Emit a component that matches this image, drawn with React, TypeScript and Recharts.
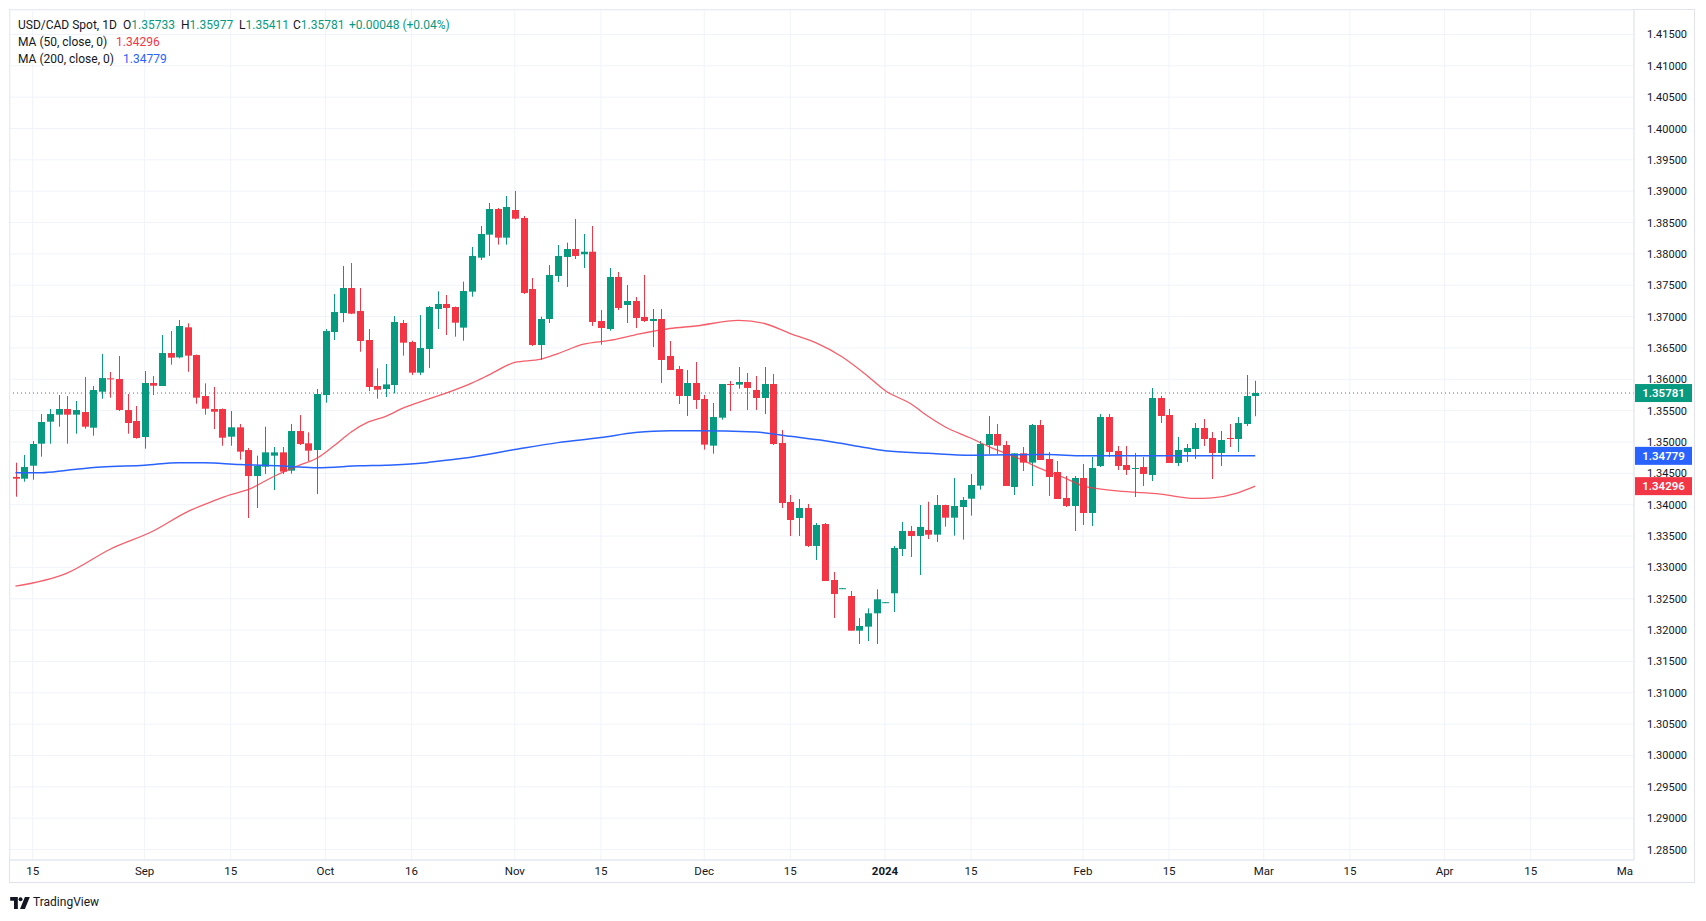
import React from 'react';
import { ComposedChart, Bar, Line, XAxis, YAxis, CartesianGrid, ReferenceLine } from 'recharts';

// Daily candles, Aug 11 2023 .. Feb 29 2024 (index 0 = Aug 11)
const openPrices = [
  1.34442,1.34415,1.34622,1.34973,1.35324,1.35436,1.35526,1.35436,1.35478,1.35228,
  1.35802,1.36015,1.36005,1.3551,1.35335,1.35079,1.35941,1.35893,1.36419,1.3635,
  1.36829,1.36387,1.35733,1.35526,1.35526,1.35085,1.35234,1.34872,1.34457,1.34606,
  1.34782,1.34835,1.34543,1.35175,1.34979,1.34872,1.35749,1.36754,1.37057,1.37456,
  1.37089,1.36627,1.35893,1.35845,1.35909,1.36898,1.36595,1.36106,1.36483,1.37121,
  1.37201,1.37153,1.36824,1.37398,1.3794,1.38307,1.38716,1.38259,1.387,1.38573,
  1.3744,1.36547,1.36962,1.37648,1.37951,1.38078,1.37994,1.38035,1.3693,1.36802,
  1.37632,1.37185,1.37249,1.36994,1.3693,1.36962,1.36372,1.36164,1.35734,1.35941,
  1.35686,1.34942,1.35388,1.35925,1.35915,1.35957,1.3583,1.35702,1.35925,1.34984,
  1.34043,1.33788,1.33948,1.33342,1.33692,1.32799,1.32662,1.32544,1.31991,1.32055,
  1.32268,1.3244,1.32587,1.33294,1.33581,1.33501,1.33597,1.33522,1.33995,1.33793,
  1.33963,1.34096,1.34304,1.34952,1.35128,1.34952,1.34282,1.34819,1.34671,1.35271,
  1.34729,1.34522,1.34107,1.33979,1.34426,1.33868,1.34617,1.35399,1.34857,1.34633,
  1.3458,1.34601,1.34474,1.35702,1.35431,1.34665,1.34841,1.34888,1.35223,1.35064,
  1.34825,1.35064,1.35048,1.35287,1.35733,
];
const highPrices = [
  1.3467,1.34792,1.35016,1.35446,1.35526,1.35749,1.35733,1.35654,1.36036,1.35893,
  1.36403,1.36116,1.36371,1.35765,1.35574,1.36132,1.36052,1.36706,1.3677,1.36946,
  1.36893,1.36395,1.35935,1.35877,1.35535,1.35494,1.35287,1.34904,1.34782,1.35244,
  1.3492,1.3492,1.35287,1.3543,1.35154,1.35845,1.36802,1.3736,1.37807,1.37855,
  1.37456,1.36802,1.36175,1.36244,1.37009,1.36946,1.36616,1.37025,1.3717,1.37403,
  1.37344,1.3716,1.37557,1.3811,1.38445,1.38812,1.38732,1.38924,1.39004,1.38605,
  1.37616,1.36999,1.37823,1.38142,1.38179,1.38557,1.38318,1.38445,1.37105,1.37775,
  1.37711,1.37504,1.37313,1.37664,1.37121,1.37121,1.36611,1.36212,1.36148,1.36276,
  1.3575,1.35622,1.35925,1.35973,1.36196,1.36101,1.36053,1.36196,1.36085,1.35192,
  1.34155,1.34091,1.34012,1.33708,1.33708,1.32927,1.32672,1.32624,1.32193,1.32347,
  1.32651,1.32448,1.33342,1.33724,1.33661,1.33995,1.34048,1.34155,1.34,1.34426,
  1.34123,1.3449,1.35016,1.35415,1.35287,1.35016,1.34819,1.3492,1.35287,1.35351,
  1.34841,1.34697,1.34458,1.34458,1.34649,1.34761,1.35447,1.35447,1.34936,1.34936,
  1.34825,1.34761,1.35861,1.35734,1.35527,1.3508,1.34968,1.35303,1.35367,1.3516,
  1.35176,1.35287,1.35399,1.36069,1.35977,
];
const lowPrices = [
  1.34128,1.34367,1.34399,1.34766,1.34973,1.35244,1.34973,1.35133,1.35212,1.35101,
  1.35691,1.35707,1.35494,1.35133,1.35053,1.34893,1.35749,1.35893,1.36233,1.36335,
  1.3612,1.35611,1.35436,1.35207,1.34941,1.34941,1.34718,1.33788,1.33947,1.34489,
  1.34234,1.34489,1.34495,1.34952,1.34697,1.3417,1.35627,1.36627,1.36911,1.3704,
  1.3644,1.35813,1.35691,1.35717,1.35776,1.36377,1.36068,1.36068,1.3618,1.36802,
  1.36706,1.3668,1.36616,1.37318,1.37903,1.37967,1.38148,1.38148,1.3855,1.37361,
  1.36531,1.36308,1.36898,1.37552,1.37472,1.37919,1.37775,1.3685,1.36552,1.36776,
  1.37105,1.36898,1.36818,1.36914,1.36515,1.35941,1.36148,1.35606,1.35415,1.35527,
  1.34878,1.34814,1.35356,1.35495,1.35851,1.35511,1.35511,1.35447,1.34952,1.33948,
  1.33501,1.33501,1.33326,1.33118,1.32783,1.32193,1.32658,1.31991,1.31779,1.31826,
  1.31779,1.32437,1.32289,1.33182,1.33166,1.32879,1.33453,1.33405,1.3365,1.33506,
  1.33443,1.33825,1.3424,1.34809,1.34809,1.34298,1.34155,1.34538,1.34298,1.34713,
  1.34139,1.34091,1.33963,1.33581,1.33676,1.3366,1.34601,1.34761,1.34554,1.34474,
  1.34123,1.34298,1.34378,1.35303,1.34665,1.34617,1.34681,1.34729,1.34936,1.3441,
  1.34617,1.3492,1.34841,1.35255,1.35411,
];
const closePrices = [
  1.34415,1.34601,1.34968,1.35319,1.35446,1.35526,1.35436,1.3551,1.35244,1.35829,
  1.3602,1.36005,1.3551,1.35303,1.35064,1.35941,1.35898,1.36419,1.36345,1.3685,
  1.36377,1.35707,1.35531,1.35483,1.35069,1.35234,1.34846,1.34457,1.34617,1.34835,
  1.34835,1.34527,1.35175,1.34968,1.34862,1.35765,1.3677,1.37073,1.37456,1.37047,
  1.36611,1.35877,1.35834,1.35919,1.36914,1.36584,1.36106,1.36499,1.37153,1.37201,
  1.37137,1.36903,1.37408,1.37967,1.38318,1.38716,1.38259,1.38748,1.38562,1.37377,
  1.36547,1.36962,1.37664,1.37967,1.38078,1.37967,1.38035,1.36914,1.36818,1.37632,
  1.37137,1.37249,1.36978,1.3693,1.36962,1.36308,1.36148,1.35734,1.35941,1.3567,
  1.34958,1.35399,1.35925,1.35915,1.35957,1.35862,1.35702,1.35925,1.34968,1.34027,
  1.33756,1.33948,1.33342,1.33677,1.32783,1.32576,1.32668,1.31991,1.32066,1.32268,
  1.32491,1.32445,1.3331,1.33581,1.33501,1.33645,1.33522,1.33995,1.33793,1.33979,
  1.34075,1.34314,1.34968,1.35128,1.34942,1.34298,1.34819,1.34671,1.35271,1.34713,
  1.34442,1.34091,1.33979,1.34426,1.33868,1.34586,1.35399,1.34841,1.34617,1.34554,
  1.34585,1.3449,1.35702,1.35415,1.34665,1.34873,1.34904,1.35223,1.35048,1.34825,
  1.35032,1.35053,1.35303,1.35734,1.35781,
];

// Moving averages read at selected bar indices
const ma50Index = [0,6,11,16,20,23,25,27,30,33,35,37,39,41,43,45,47,50,53,55,58,61,63,66,69,72,76,79,84,87,90,93,96,99,101,104,106,108,111,113,117,119,122,124,128,133,137,139,142,144];
const ma50Values = [1.3270,1.3291,1.3329,1.3358,1.3389,1.3406,1.3416,1.3424,1.3445,1.3463,1.3474,1.3494,1.3516,1.3532,1.3541,1.3554,1.3564,1.3578,1.3594,1.3607,1.3627,1.3632,1.3641,1.3656,1.3662,1.3671,1.3681,1.3685,1.3694,1.3689,1.3673,1.3658,1.3636,1.3605,1.3582,1.3561,1.3541,1.3524,1.3506,1.3493,1.3471,1.3458,1.3442,1.3430,1.3422,1.3417,1.3410,1.3411,1.3419,1.34296];
const ma200Index = [0,3,6,10,15,19,22,26,29,32,35,40,43,47,50,52,58,63,68,72,76,79,86,90,94,98,101,106,111,120,124,133,144];
const ma200Values = [1.3451,1.3451,1.3455,1.3460,1.3463,1.3467,1.3467,1.3464,1.3463,1.3461,1.3459,1.3462,1.3463,1.3466,1.3471,1.3474,1.3488,1.3499,1.3507,1.3515,1.3518,1.3518,1.3516,1.3509,1.3502,1.3493,1.3486,1.3482,1.3479,1.3480,1.3478,1.3478,1.34779];

const xTickIndex = [2,15,25,36,46,58,68,80,90,101,111,124,134,145,155,166,176,188];
const xTickLabels = ['15','Sep','15','Oct','16','Nov','15','Dec','15','2024','15','Feb','15','Mar','15','Apr','15','Ma'];
const yTicks = [1.285,1.29,1.295,1.3,1.305,1.31,1.315,1.32,1.325,1.33,1.335,1.34,1.345,1.35,1.355,1.36,1.365,1.37,1.375,1.38,1.385,1.39,1.395,1.4,1.405,1.41,1.415];

const lastClose = 1.35781;
const ma50Last = 1.34296;
const ma200Last = 1.34779;

const UP = '#089981';
const DOWN = '#F23645';
const BLUE = '#2962FF';
const TEXT = '#131722';
const FONT = 'Roboto, "Noto Sans", sans-serif';

type Row = { k: number; o: number; h: number; l: number; c: number; range: number[]; ma50?: number; ma200?: number };
const data: Row[] = openPrices.map((o, i) => ({
  k: i, o, h: highPrices[i], l: lowPrices[i], c: closePrices[i], range: [lowPrices[i], highPrices[i]],
}));
ma50Index.forEach((k, j) => { data[k].ma50 = ma50Values[j]; });
ma200Index.forEach((k, j) => { data[k].ma200 = ma200Values[j]; });

const Candle = (props: any) => {
  const { x, y, width, height, payload } = props;
  if (!payload || x == null || y == null) return null;
  const { o, h, l, c } = payload;
  const top = Math.min(y, y + height);
  const bot = Math.max(y, y + height);
  const span = h - l || 1e-9;
  const py = (v: number) => top + ((h - v) / span) * (bot - top);
  const up = c >= o;
  const color = up ? UP : DOWN;
  const cx = Math.round(x + width / 2);
  const bTop = py(Math.max(o, c));
  const bBot = py(Math.min(o, c));
  const bh = Math.max(1, bBot - bTop);
  return (
    <g>
      <rect x={cx} y={top} width={1} height={Math.max(1, bot - top)} fill={color} />
      <rect x={cx - 3} y={bTop} width={7} height={bh} fill={color} />
    </g>
  );
};

const XTick = (props: any) => {
  const { x, y, payload } = props;
  const idx = xTickIndex.indexOf(payload.value);
  const label = idx >= 0 ? xTickLabels[idx] : '';
  const isLast = idx === xTickIndex.length - 1;
  return (
    <text x={isLast ? x - 1 : x} y={y + 7} textAnchor={isLast ? 'end' : 'middle'} fontSize={11.5} fontFamily={FONT}
      fill={TEXT} fontWeight={label === '2024' ? 700 : 400}>{label}</text>
  );
};

const YTick = (props: any) => {
  const { x, y, payload } = props;
  return (
    <text x={x + 5} y={y + 4} textAnchor="start" fontSize={11} fontFamily={FONT} fill={TEXT}>
      {Number(payload.value).toFixed(5)}
    </text>
  );
};

const priceBox = (value: number, color: string) => (p: any) => {
  const vb = p.viewBox || {};
  const bx = vb.x + vb.width + 1;
  const by = vb.y;
  return (
    <g>
      <rect x={bx} y={by - 9} width={57} height={18} fill={color} />
      <text x={bx + 28.5} y={by + 4} textAnchor="middle" fontSize={11.5} fontFamily={FONT} fontWeight={600} fill="#ffffff">
        {value.toFixed(5)}
      </text>
    </g>
  );
};

const Logo = () => (
  <svg width={20} height={12} viewBox="0 0 36 22" style={{ position: 'absolute', left: 2, top: 889 }}>
    <path d="M0 0h14v22H7V7H0z" fill={TEXT} />
    <circle cx={19} cy={4} r={3.6} fill={TEXT} />
    <path d="M27 0h9l-9 22h-9z" fill={TEXT} />
  </svg>
);

export default function App() {
  return (
    <div style={{ position: 'relative', width: 1690, height: 905, fontFamily: FONT, background: '#ffffff' }}>
      <div style={{ position: 'absolute', left: 1, top: 1, width: 1686, height: 874, border: '1px solid #e0e3eb', boxSizing: 'border-box' }} />
      <div style={{ position: 'absolute', left: 0, top: 0 }}>
        <ComposedChart width={1688} height={875} data={data} margin={{ top: 2, right: 0, bottom: 0, left: 2 }}>
          <CartesianGrid stroke="#f0f3fa" strokeWidth={1} />
          <XAxis dataKey="k" type="number" domain={[-0.635, 188]} ticks={xTickIndex} allowDataOverflow
            height={23} tick={<XTick />} tickLine={false} axisLine={{ stroke: '#e0e3eb' }} interval={0} />
          <YAxis type="number" orientation="right" domain={[1.283333, 1.4189]} allowDataOverflow ticks={yTicks}
            width={62} tick={<YTick />} tickLine={false} axisLine={{ stroke: '#e0e3eb' }} interval={0} />
          <Line dataKey="ma50" type="monotone" stroke="#F23645" strokeOpacity={0.8} strokeWidth={1.3} dot={false}
            connectNulls isAnimationActive={false} />
          <Line dataKey="ma200" type="monotone" stroke={BLUE} strokeWidth={1.5} dot={false}
            connectNulls isAnimationActive={false} />
          <Bar dataKey="range" barSize={7} shape={<Candle />} isAnimationActive={false} />
          <ReferenceLine y={lastClose} stroke={UP} strokeDasharray="1 3" strokeWidth={1} label={priceBox(lastClose, UP)} />
          <ReferenceLine y={ma200Last} stroke="none" strokeOpacity={0} label={priceBox(ma200Last, BLUE)} />
          <ReferenceLine y={ma50Last} stroke="none" strokeOpacity={0} label={priceBox(ma50Last, DOWN)} />
        </ComposedChart>
      </div>
      <div style={{ position: 'absolute', top: 9, left: 0, fontSize: 12, color: TEXT, lineHeight: '16px', whiteSpace: 'nowrap' }}>
        <span style={{ position: 'absolute', left: 10 }}>USD/CAD Spot, 1D</span>
        <span style={{ position: 'absolute', left: 115 }}>O<span style={{ color: UP }}>1.35733</span></span>
        <span style={{ position: 'absolute', left: 173 }}>H<span style={{ color: UP }}>1.35977</span></span>
        <span style={{ position: 'absolute', left: 231 }}>L<span style={{ color: UP }}>1.35411</span></span>
        <span style={{ position: 'absolute', left: 285 }}>C<span style={{ color: UP }}>1.35781</span></span>
        <span style={{ position: 'absolute', left: 341, color: UP }}>+0.00048 (+0.04%)</span>
      </div>
      <div style={{ position: 'absolute', top: 26, left: 0, fontSize: 12, color: TEXT, lineHeight: '16px', whiteSpace: 'nowrap' }}>
        <span style={{ position: 'absolute', left: 10 }}>MA (50, close, 0)</span>
        <span style={{ position: 'absolute', left: 108, color: DOWN }}>1.34296</span>
      </div>
      <div style={{ position: 'absolute', top: 43, left: 0, fontSize: 12, color: TEXT, lineHeight: '16px', whiteSpace: 'nowrap' }}>
        <span style={{ position: 'absolute', left: 10 }}>MA (200, close, 0)</span>
        <span style={{ position: 'absolute', left: 115, color: BLUE }}>1.34779</span>
      </div>
      <Logo />
      <div style={{ position: 'absolute', left: 25, top: 886, fontSize: 12, color: TEXT, lineHeight: '16px' }}>TradingView</div>
    </div>
  );
}
